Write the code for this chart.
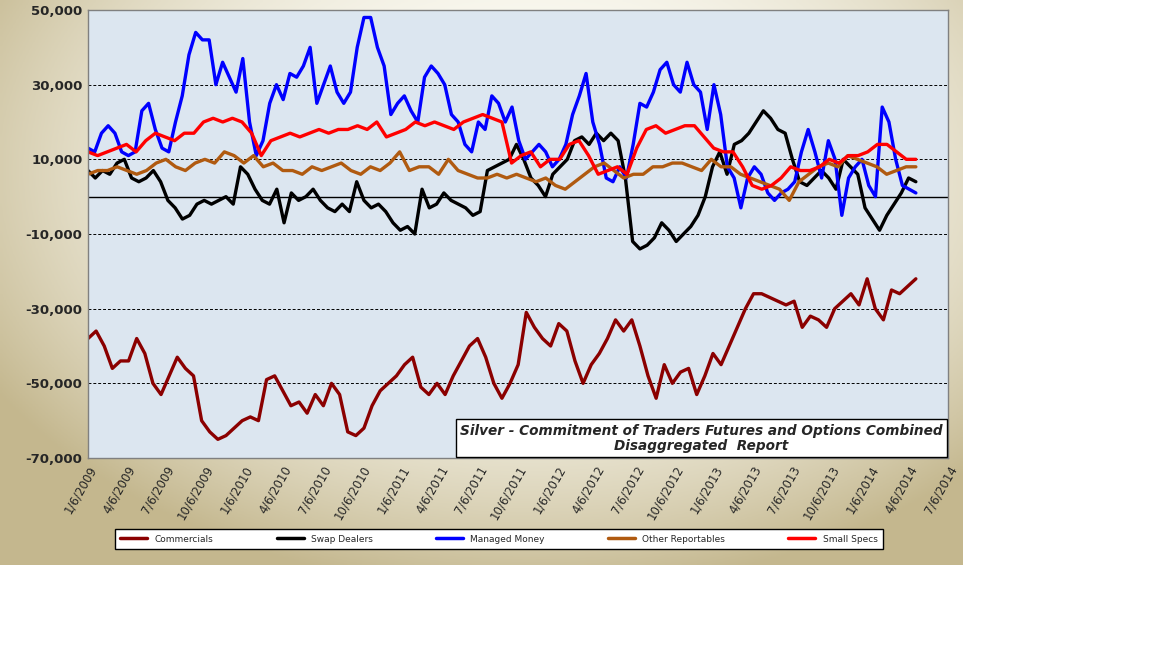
import numpy as np, pandas as pd, seaborn as sns, matplotlib
matplotlib.use("Agg")
import matplotlib.pyplot as plt

sns.set_theme(style="white")
plt.rcParams['font.family'] = ['DejaVu Sans']

start, end = "2009-01-06", "2014-04-22"
commercials = [-38,-36,-40,-46,-44,-44,-38,-42,-50,-53,-48,-43,-46,-48,-60,-63,-65,-64,-62,-60,-59,-60,-49,-48,-52,-56,-55,-58,-53,-56,-50,-53,-63,-64,-62,-56,-52,-50,-48,-45,-43,-51,-53,-50,-53,-48,-44,-40,-38,-43,-50,-54,-50,-45,-31,-35,-38,-40,-34,-36,-44,-50,-45,-42,-38,-33,-36,-33,-40,-48,-54,-45,-50,-47,-46,-53,-48,-42,-45,-40,-35,-30,-26,-26,-27,-28,-29,-28,-35,-32,-33,-35,-30,-28,-26,-29,-22,-30,-33,-25,-26,-24,-22]
swap_dealers = [7,5,7,6,9,10,5,4,5,7,4,-1,-3,-6,-5,-2,-1,-2,-1,0,-2,8,6,2,-1,-2,2,-7,1,-1,0,2,-1,-3,-4,-2,-4,4,-1,-3,-2,-4,-7,-9,-8,-10,2,-3,-2,1,-1,-2,-3,-5,-4,7,8,9,10,14,10,5,3,0,6,8,10,15,16,14,17,15,17,15,5,-12,-14,-13,-11,-7,-9,-12,-10,-8,-5,0,8,12,6,14,15,17,20,23,21,18,17,10,4,3,5,7,5,2,10,8,6,-3,-6,-9,-5,-2,1,5,4]
managed_money = [13,12,17,19,17,12,11,12,23,25,18,13,12,20,27,38,44,42,42,30,36,32,28,37,20,11,15,25,30,26,33,32,35,40,25,30,35,28,25,28,40,48,48,40,35,22,25,27,23,20,32,35,33,30,22,20,14,12,20,18,27,25,20,24,15,10,12,14,12,8,10,14,22,27,33,20,14,5,4,8,5,14,25,24,28,34,36,30,28,36,30,28,18,30,22,8,5,-3,5,8,6,1,-1,1,2,4,12,18,12,5,15,10,-5,5,8,10,3,0,24,20,10,3,2,1]
other_reportables = [6,7,7,8,7,6,7,9,10,8,7,9,10,9,12,11,9,11,8,9,7,7,6,8,7,8,9,7,6,8,7,9,12,7,8,8,6,10,7,6,5,5,6,5,6,5,4,5,3,2,4,6,8,9,7,5,6,6,8,8,9,9,8,7,10,8,8,6,5,4,3,2,-1,4,6,8,9,8,11,10,9,8,6,7,8,8]
small_specs = [12,11,12,13,14,12,15,17,16,15,17,17,20,21,20,21,20,17,11,15,16,17,16,17,18,17,18,18,19,18,20,16,17,18,20,19,20,19,18,20,21,22,21,20,9,11,12,8,10,10,14,15,11,6,7,8,6,13,18,19,17,18,19,19,16,13,12,12,8,3,2,3,5,8,7,7,8,10,9,11,11,12,14,14,12,10,10]

names = ["Commercials","Swap Dealers","Managed Money","Other Reportables","Small Specs"]
series = [commercials, swap_dealers, managed_money, other_reportables, small_specs]
colors = ["#8b0000","#000000","#0000ff","#b05a10","#ff0000"]
frames = []
for n, s in zip(names, series):
    d = pd.date_range(start, end, periods=len(s))
    frames.append(pd.DataFrame({"date": d, "value": np.array(s)*1000.0, "series": n}))
df = pd.concat(frames)

fig = plt.figure(figsize=(11.52, 6.48), dpi=100)
bg = fig.add_axes([0, 1-565/648, 963/1152, 565/648])
yy, xx = np.mgrid[0:1:200j, 0:1:300j]
r = np.sqrt(((xx-0.55)/0.65)**2 + ((yy-0.3)/0.75)**2)
r = np.clip(r, 0, 1)
c0 = np.array([1.0, 1.0, 0.98]); c1 = np.array([0.77, 0.72, 0.56])
w = r[..., None]**2.2
img = c0[None,None,:]*(1-w) + c1[None,None,:]*w
bg.imshow(img, aspect='auto', extent=[0,1,0,1])
bg.axis('off')

ax = fig.add_axes([88/1152, 1-458/648, 860/1152, 448/648])
ax.set_facecolor("#dce6f0")
sns.lineplot(data=df, x="date", y="value", hue="series", hue_order=names,
             palette=colors, linewidth=2.4, ax=ax, legend=False)
ax.set_ylim(-70000, 50000)
ax.set_xlim(pd.Timestamp("2009-01-06"), pd.Timestamp("2014-07-06"))
yt = [50000,30000,10000,-10000,-30000,-50000,-70000]
ax.set_yticks(yt)
ax.set_yticklabels([f"{v:,}" for v in yt], fontweight='bold', fontsize=9.5)
for v in [30000,10000,-10000,-30000,-50000]:
    ax.axhline(v, color='black', ls=(0,(3,2)), lw=0.7, zorder=0)
ax.axhline(0, color='black', lw=1, zorder=1)
xt = pd.date_range("2009-01-06", "2014-07-06", freq=pd.DateOffset(months=3))
ax.set_xticks(xt)
ax.set_xticklabels([f"{d.month}/{d.day}/{d.year}" for d in xt], rotation=60, fontsize=8.5, ha='right', rotation_mode='anchor')
ax.set_xlabel(""); ax.set_ylabel("")
for sp in ax.spines.values():
    sp.set_color('#808080'); sp.set_linewidth(1)
ax.tick_params(axis='both', length=0, pad=4)
ax.text(0.713, 0.012, "Silver - Commitment of Traders Futures and Options Combined\nDisaggregated  Report",
        transform=ax.transAxes, ha='center', va='bottom', multialignment='center', fontsize=9.8,
        fontweight='bold', style='italic', linespacing=1.1,
        bbox=dict(boxstyle='square,pad=0.3', fc='white', ec='black', lw=1))

from matplotlib.lines import Line2D
handles = [Line2D([0],[0], color=c, lw=2.5) for c in colors]
leg = fig.legend(handles, names, loc='center', ncol=5, bbox_to_anchor=(499/1152, 1-539/648),
                 fontsize=6.5, frameon=True, fancybox=False, edgecolor='black', columnspacing=7,
                 handlelength=3, borderpad=0.6, facecolor='white', framealpha=1)
leg.get_frame().set_linewidth(1)
fig.savefig("out.png", dpi=100)
